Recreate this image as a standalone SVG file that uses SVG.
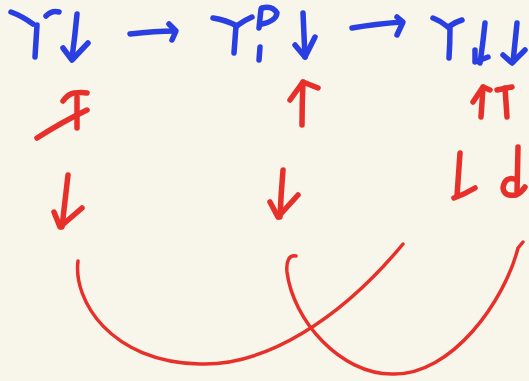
<svg xmlns="http://www.w3.org/2000/svg" width="529" height="381" viewBox="0 0 529 381">
<style>
.b{fill:none;stroke:#2a3fe2;stroke-width:5.5;stroke-linecap:round;stroke-linejoin:round}
.r{fill:none;stroke:#e8302b;stroke-width:5.5;stroke-linecap:round;stroke-linejoin:round}
.c{fill:none;stroke:#e8302b;stroke-width:3.5;stroke-linecap:round;stroke-linejoin:round}
</style>
<rect width="529" height="381" fill="#f8f5ea"/>
<g id="blue">
<path class="b" d="M11,12 Q22,16 33,24"/>
<path class="b" d="M37,25 Q36,42 35,57"/>
<path class="b" d="M46,16 Q52,10 59,12"/>
<path class="b" d="M77,14 Q75,36 72,58"/>
<path class="b" d="M63,48 L72,60 L88,43"/>
<path class="b" d="M130,34 Q155,31 175,31"/>
<path class="b" d="M169,24 L176,31 L172,40"/>
<path class="b" d="M213,18 Q226,20 237,26"/>
<path class="b" d="M236,26 Q235,40 234,53"/>
<path class="b" d="M238,25 Q245,20 252,17"/>
<path class="b" d="M261,9 L259,28"/>
<path class="b" d="M262,8 Q272,5 277,13 Q276,21 262,24"/>
<path class="b" d="M260,47 L259,60"/>
<path class="b" d="M303,13 Q304,35 305,57"/>
<path class="b" d="M295,45 L305,57 L315,37"/>
<path class="b" d="M352,28 Q375,24 402,22"/>
<path class="b" d="M397,17 L403,22 L397,35"/>
<path class="b" d="M433,18 Q441,21 448,27"/>
<path class="b" d="M448,27 Q455,22 462,20"/>
<path class="b" d="M450,28 Q450,43 449,58"/>
<path class="b" d="M485,23 Q483,43 480,63"/>
<path class="b" d="M475,50 L475,62 L488,57"/>
<path class="b" d="M517,23 Q515,43 513,62"/>
<path class="b" d="M503,55 L512,63 L525,50"/>
</g>
<g id="red">
<path class="r" d="M77,97 L77,128"/>
<path class="r" d="M63,101 Q68,94 74,93 Q82,92 87,93"/>
<path class="r" d="M37,138 Q62,122 87,110"/>
<path class="r" d="M68,175 Q65,201 62,227"/>
<path class="r" d="M54,212 L60,227 L82,208"/>
<path class="r" d="M302,125 Q302,103 303,82"/>
<path class="r" d="M290,100 L303,82 L318,88"/>
<path class="r" d="M283,170 Q281,194 280,217"/>
<path class="r" d="M270,202 L278,217 L298,195"/>
<path class="r" d="M481,117 L483,87"/>
<path class="r" d="M473,102 L483,87 L490,90"/>
<path class="r" d="M507,117 L505,88"/>
<path class="r" d="M497,90 L512,87"/>
<path class="r" d="M460,153 L457,196"/>
<path class="r" d="M454,198 Q465,194 475,188"/>
<path class="r" d="M518,147 L517,193"/>
<path class="r" d="M517,180 Q505,175 503,188 Q504,197 516,195 Q522,192 525,187"/>
</g>
<g id="connectors">
<path class="c" d="M78,261 C73,300 110,362 200,364 C265,366 340,320 403,244"/>
<path class="c" d="M296,256 C289,254 286,262 287,272 C293,320 340,374 392,374 C452,376 505,300 518,248 L523,242"/>
</g>
</svg>
